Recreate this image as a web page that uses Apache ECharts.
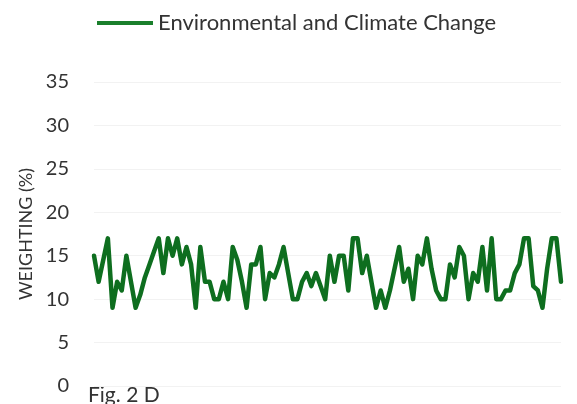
<!DOCTYPE html>
<html>
<head>
<meta charset="utf-8">
<script src="https://cdn.jsdelivr.net/npm/echarts@6/dist/echarts.min.js"></script>
<style>
  html, body { margin: 0; padding: 0; background: #ffffff; }
  #main { width: 577px; height: 404px; }
</style>
</head>
<body>
<div id="main"></div>
<script>
// Values (weighting in %)
const seriesName = "Environmental and Climate Change";
const weights = [
  15, 12, 14.5, 17, 9, 12, 11, 15, 12, 9,
  10.5, 12.5, 14, 15.5, 17, 13, 17, 15, 17, 14,
  16, 14, 9, 16, 12, 12, 10, 10, 12, 10,
  16, 14.5, 12, 9, 14, 14, 16, 10, 13, 12.5,
  14, 16, 13, 10, 10, 12, 13, 11.5, 13, 11.5,
  10, 15, 12, 15, 15, 11, 17, 17, 13, 15,
  12, 9, 11, 9, 11, 13.5, 16, 12, 13.5, 10,
  15, 14, 17, 13.5, 11, 10, 10, 14, 12.5, 16,
  15, 10, 13, 12, 16, 11, 17, 10, 10, 11,
  11, 13, 14, 17, 17, 11.5, 11, 9, 13.5, 17,
  17, 12
];
const periods = weights.map((_, i) => String(i + 1));
const yTicks = { min: 0, max: 35, interval: 5 };

const chart = echarts.init(document.getElementById("main"));

const font = "Lato, 'Open Sans', sans-serif";
const green = "#0e6e1f";

const option = {
  animation: false,
  backgroundColor: "#ffffff",
  legend: {
    data: [seriesName],
    left: 92,
    top: 7,
    icon: "rect",
    itemWidth: 56,
    itemHeight: 4,
    textStyle: { fontFamily: font, fontSize: 22, color: "#333333" }
  },
  grid: { left: 94, right: 16, top: 82, bottom: 18 },
  xAxis: {
    type: "category",
    data: periods,
    boundaryGap: false,
    axisLine: { show: false },
    axisTick: { show: false },
    axisLabel: { show: false },
    splitLine: { show: false }
  },
  yAxis: {
    type: "value",
    min: yTicks.min,
    max: yTicks.max,
    interval: yTicks.interval,
    name: "WEIGHTING (%)",
    nameLocation: "middle",
    nameGap: 58,
    nameTextStyle: { fontFamily: font, fontSize: 18, color: "#333333" },
    axisLine: { show: false },
    axisTick: { show: false },
    axisLabel: { fontFamily: font, fontSize: 20, color: "#333333", margin: 25 },
    splitLine: { lineStyle: { color: "#f2f2f2", width: 1 } }
  },
  series: [
    {
      name: seriesName,
      type: "line",
      data: weights,
      showSymbol: false,
      color: "#1a7f2c",
      lineStyle: { width: 4.5, color: green, join: "round", cap: "round" }
    }
  ],
  graphic: [
    {
      type: "text",
      left: 88,
      top: 385,
      style: { text: "Fig. 2 D", fontFamily: font, fontSize: 21, fill: "#333333" }
    }
  ]
};

chart.setOption(option);
</script>
</body>
</html>
